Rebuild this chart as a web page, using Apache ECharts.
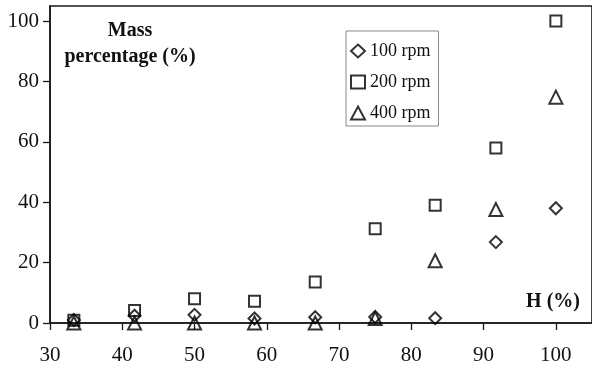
<!DOCTYPE html>
<html>
<head>
<meta charset="utf-8">
<script src="https://cdn.jsdelivr.net/npm/echarts@6/dist/echarts.min.js"></script>
<style>
  html, body { margin: 0; padding: 0; background: #ffffff; }
  #chart { width: 592px; height: 374px; }
</style>
</head>
<body>
<div id="chart"></div>
<script>
// Relative humidity H (%) of each sample
const hValues = [33.3, 41.7, 50, 58.3, 66.7, 75, 83.3, 91.7, 100];

// Mass percentage (%) at each stirring speed
const rpm100 = [1.0, 2.4, 2.7, 1.5, 1.9, 2.0, 1.6, 26.8, 38.0];
const rpm200 = [0.9, 4.1, 8.0, 7.2, 13.6, 31.2, 39.0, 58.0, 100.0];
const rpm400 = [0, 0, 0, 0, 0, 1.5, 20.6, 37.6, 74.8];

const seriesNames = ['100 rpm', '200 rpm', '400 rpm'];
const xTicks = [30, 40, 50, 60, 70, 80, 90, 100];
const yTicks = [0, 20, 40, 60, 80, 100];

const FONT = 'Liberation Serif, Times New Roman, serif';
const INK = '#111111';

const pairs = (ys) => hValues.map((x, i) => [x, ys[i]]);

// hollow markers: outline only, so overlapping points stay readable
const openMarker = {
  color: 'rgba(0,0,0,0)',
  borderColor: '#000',
  borderWidth: 2
};

const chart = echarts.init(document.getElementById('chart'), null, { renderer: 'canvas' });

chart.setOption({
  animation: false,
  backgroundColor: '#ffffff',
  grid: {
    left: 50, top: 6, right: -2, bottom: 51,
    show: true,
    borderColor: '#1a1a1a',
    borderWidth: 1.6,
    backgroundColor: 'transparent'
  },
  title: [
    {
      text: 'Mass\npercentage (%)',
      left: 125, top: 13,
      textAlign: 'center',
      textStyle: { fontFamily: FONT, fontWeight: 'bold', fontSize: 20, lineHeight: 26, color: INK, align: 'center' }
    },
    {
      text: 'H (%)',
      right: 7, top: 287,
      textStyle: { fontFamily: FONT, fontWeight: 'bold', fontSize: 20, color: INK }
    }
  ],
  legend: {
    orient: 'vertical',
    left: 346, top: 31,
    padding: [11, 8, 4, 4],
    itemGap: 13,
    itemWidth: 14,
    itemHeight: 13,
    borderColor: '#888',
    borderWidth: 1,
    backgroundColor: '#ffffff',
    textStyle: { fontFamily: FONT, fontSize: 18, lineHeight: 18, color: INK, padding: [0, 0, 0, 0] },
    itemStyle: { color: 'rgba(0,0,0,0)', borderColor: '#000', borderWidth: 2 },
    data: [
      { name: seriesNames[0], icon: 'diamond' },
      { name: seriesNames[1], icon: 'rect' },
      { name: seriesNames[2], icon: 'triangle' }
    ]
  },
  xAxis: {
    type: 'value',
    min: 30, max: 105, interval: 10,
    splitLine: { show: false },
    axisLine: { show: true, onZero: true, lineStyle: { color: '#1a1a1a', width: 1.6 } },
    axisTick: { show: true, inside: false, length: 7, customValues: xTicks, lineStyle: { color: '#1a1a1a', width: 1.3 } },
    axisLabel: {
      customValues: xTicks,
      margin: 22,
      fontFamily: FONT, fontSize: 21, color: INK
    }
  },
  yAxis: {
    type: 'value',
    min: 0, max: 105, interval: 20,
    splitLine: { show: false },
    axisLine: { show: true, lineStyle: { color: '#1a1a1a', width: 1.6 } },
    axisTick: { show: true, inside: false, length: 7, customValues: yTicks, lineStyle: { color: '#1a1a1a', width: 1.3 } },
    axisLabel: {
      customValues: yTicks,
      margin: 11,
      fontFamily: FONT, fontSize: 21, color: INK
    }
  },
  series: [
    {
      name: seriesNames[0], type: 'scatter', symbol: 'diamond', symbolSize: [12, 12],
      itemStyle: openMarker, data: pairs(rpm100), z: 3
    },
    {
      name: seriesNames[1], type: 'scatter', symbol: 'rect', symbolSize: [11, 11],
      itemStyle: openMarker, data: pairs(rpm200), z: 3
    },
    {
      name: seriesNames[2], type: 'scatter', symbol: 'triangle', symbolSize: [13, 13],
      itemStyle: openMarker, data: pairs(rpm400), z: 3
    }
  ]
});
</script>
</body>
</html>
